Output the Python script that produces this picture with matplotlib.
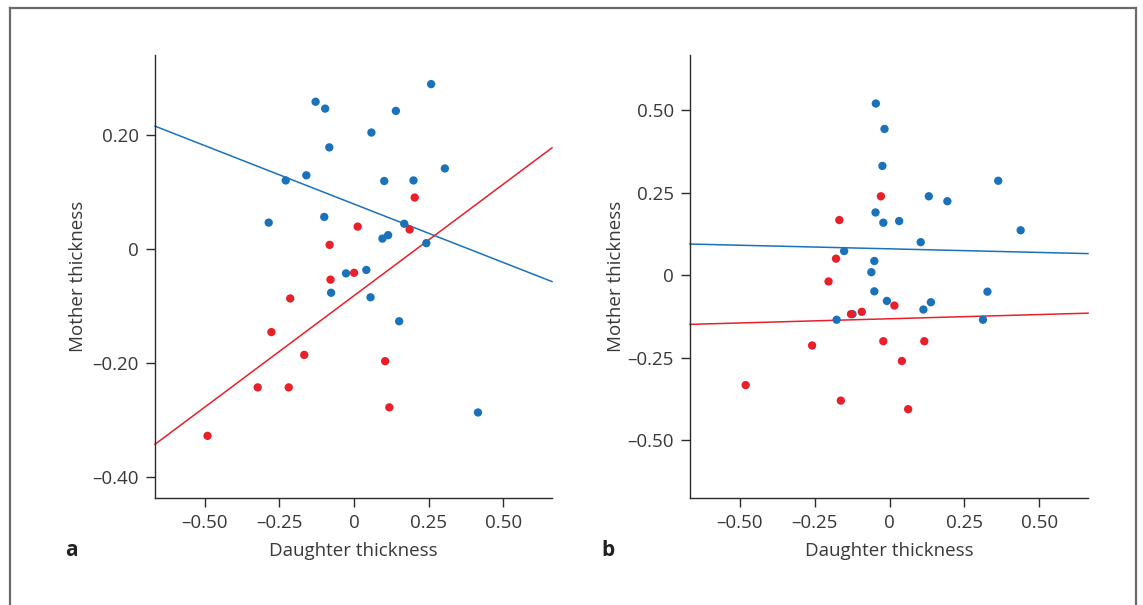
import matplotlib
matplotlib.use("Agg")
import matplotlib.pyplot as plt
from matplotlib.lines import Line2D
import numpy as np

plt.rcParams['font.family'] = ['Open Sans', 'DejaVu Sans']

# ---------------- data: panel a ----------------
a_blue_x = [0.258, -0.129, -0.097, 0.140, 0.058, -0.083, -0.160, -0.229, 0.101, 0.199,
            0.304, -0.286, -0.100, 0.168, 0.095, 0.114, 0.242, -0.027, 0.041, -0.077,
            0.055, 0.151, 0.415]
a_blue_y = [0.289, 0.258, 0.246, 0.242, 0.204, 0.178, 0.129, 0.120, 0.119, 0.120,
            0.141, 0.046, 0.056, 0.044, 0.018, 0.024, 0.010, -0.043, -0.037, -0.077,
            -0.085, -0.127, -0.287]
a_red_x = [0.203, 0.012, 0.186, -0.082, 0.000, -0.079, -0.214, -0.277, -0.167, 0.104,
           -0.323, -0.219, 0.118, -0.491]
a_red_y = [0.090, 0.039, 0.034, 0.007, -0.042, -0.054, -0.087, -0.146, -0.186, -0.197,
           -0.243, -0.243, -0.278, -0.328]
a_blue_fit = (-0.205, 0.0785)   # slope, intercept
a_red_fit = (0.391, -0.082)

# ---------------- data: panel b ----------------
b_blue_x = [-0.046, -0.017, -0.024, 0.363, 0.131, 0.193, -0.047, -0.021, 0.032, 0.438,
            0.104, -0.152, -0.051, -0.061, -0.051, -0.009, 0.138, 0.113, 0.327, 0.312,
            -0.177, -0.124]
b_blue_y = [0.520, 0.443, 0.331, 0.286, 0.239, 0.224, 0.190, 0.159, 0.164, 0.136,
            0.100, 0.073, 0.043, 0.009, -0.049, -0.078, -0.082, -0.104, -0.050, -0.135,
            -0.135, -0.118]
b_red_x = [-0.029, -0.168, -0.179, -0.204, -0.129, -0.093, 0.016, -0.021, 0.116, -0.259,
           0.041, -0.481, -0.163, 0.062]
b_red_y = [0.239, 0.167, 0.050, -0.019, -0.118, -0.111, -0.092, -0.200, -0.200, -0.213,
           -0.260, -0.333, -0.380, -0.406]
b_blue_fit = (-0.0218, 0.0798)
b_red_fit = (0.0255, -0.132)

x_ticks = [-0.50, -0.25, 0, 0.25, 0.50]
x_ticklabels = ['\u20130.50', '\u20130.25', '0', '0.25', '0.50']
a_y_ticks = [0.20, 0, -0.20, -0.40]
a_y_ticklabels = ['0.20', '0', '\u20130.20', '\u20130.40']
b_y_ticks = [0.50, 0.25, 0, -0.25, -0.50]
b_y_ticklabels = ['0.50', '0.25', '0', '\u20130.25', '\u20130.50']

BLUE = '#1a72bb'
RED = '#e8202a'
SPINE = '#2b2b2b'
TEXT = '#383838'

fig = plt.figure(figsize=(11.43, 6.05), dpi=100)

# frame around figure
frame_kw = dict(color='#6b6b6b', lw=1.6, transform=fig.transFigure)
x0, x1, yt = 9.5 / 1143, 1135.5 / 1143, 1 - 7.5 / 605
fig.add_artist(Line2D([x0, x0], [0, yt], **frame_kw))
fig.add_artist(Line2D([x0, x1], [yt, yt], **frame_kw))
fig.add_artist(Line2D([x1, x1], [0, yt], **frame_kw))

XLIM = (-0.667, 0.663)
FS = 13.5


def setup(ax, ylim, yticks, yticklabels, ylabelpad):
    ax.set_xlim(*XLIM)
    ax.set_ylim(*ylim)
    for s in ['top', 'right']:
        ax.spines[s].set_visible(False)
    for s in ['left', 'bottom']:
        ax.spines[s].set_color(SPINE)
        ax.spines[s].set_linewidth(1.0)
    ax.set_xticks(x_ticks)
    ax.set_xticklabels(x_ticklabels)
    ax.set_yticks(yticks)
    ax.set_yticklabels(yticklabels)
    ax.tick_params(direction='out', length=6.5, width=1.0, color=SPINE,
                   labelsize=FS, labelcolor=TEXT, pad=5)
    ax.set_xlabel('Daughter thickness', fontsize=FS, color=TEXT, labelpad=7)
    ax.set_ylabel('Mother thickness', fontsize=FS, color=TEXT, labelpad=ylabelpad)


def draw(ax, bx, by, rx, ry, bfit, rfit):
    xs = np.array(XLIM)
    ax.plot(xs, bfit[0] * xs + bfit[1], color=BLUE, lw=1.1, zorder=2, clip_on=False)
    ax.plot(xs, rfit[0] * xs + rfit[1], color=RED, lw=1.1, zorder=2, clip_on=False)
    ax.scatter(bx, by, s=36, color=BLUE, edgecolors='none', zorder=3)
    ax.scatter(rx, ry, s=36, color=RED, edgecolors='none', zorder=3)


axA = fig.add_axes([155 / 1143, 107 / 605, 397 / 1143, 443 / 605])
setup(axA, (-0.437, 0.340), a_y_ticks, a_y_ticklabels, 4)
draw(axA, a_blue_x, a_blue_y, a_red_x, a_red_y, a_blue_fit, a_red_fit)

axB = fig.add_axes([690 / 1143, 107 / 605, 398 / 1143, 443 / 605])
setup(axB, (-0.675, 0.667), b_y_ticks, b_y_ticklabels, 2)
draw(axB, b_blue_x, b_blue_y, b_red_x, b_red_y, b_blue_fit, b_red_fit)

fig.text(71 / 1143, 1 - 551 / 605, 'a', fontsize=15, fontweight='bold', color='#222222',
         ha='center', va='center')
fig.text(608 / 1143, 1 - 551 / 605, 'b', fontsize=15, fontweight='bold', color='#222222',
         ha='center', va='center')

fig.savefig('out.png', dpi=100)
